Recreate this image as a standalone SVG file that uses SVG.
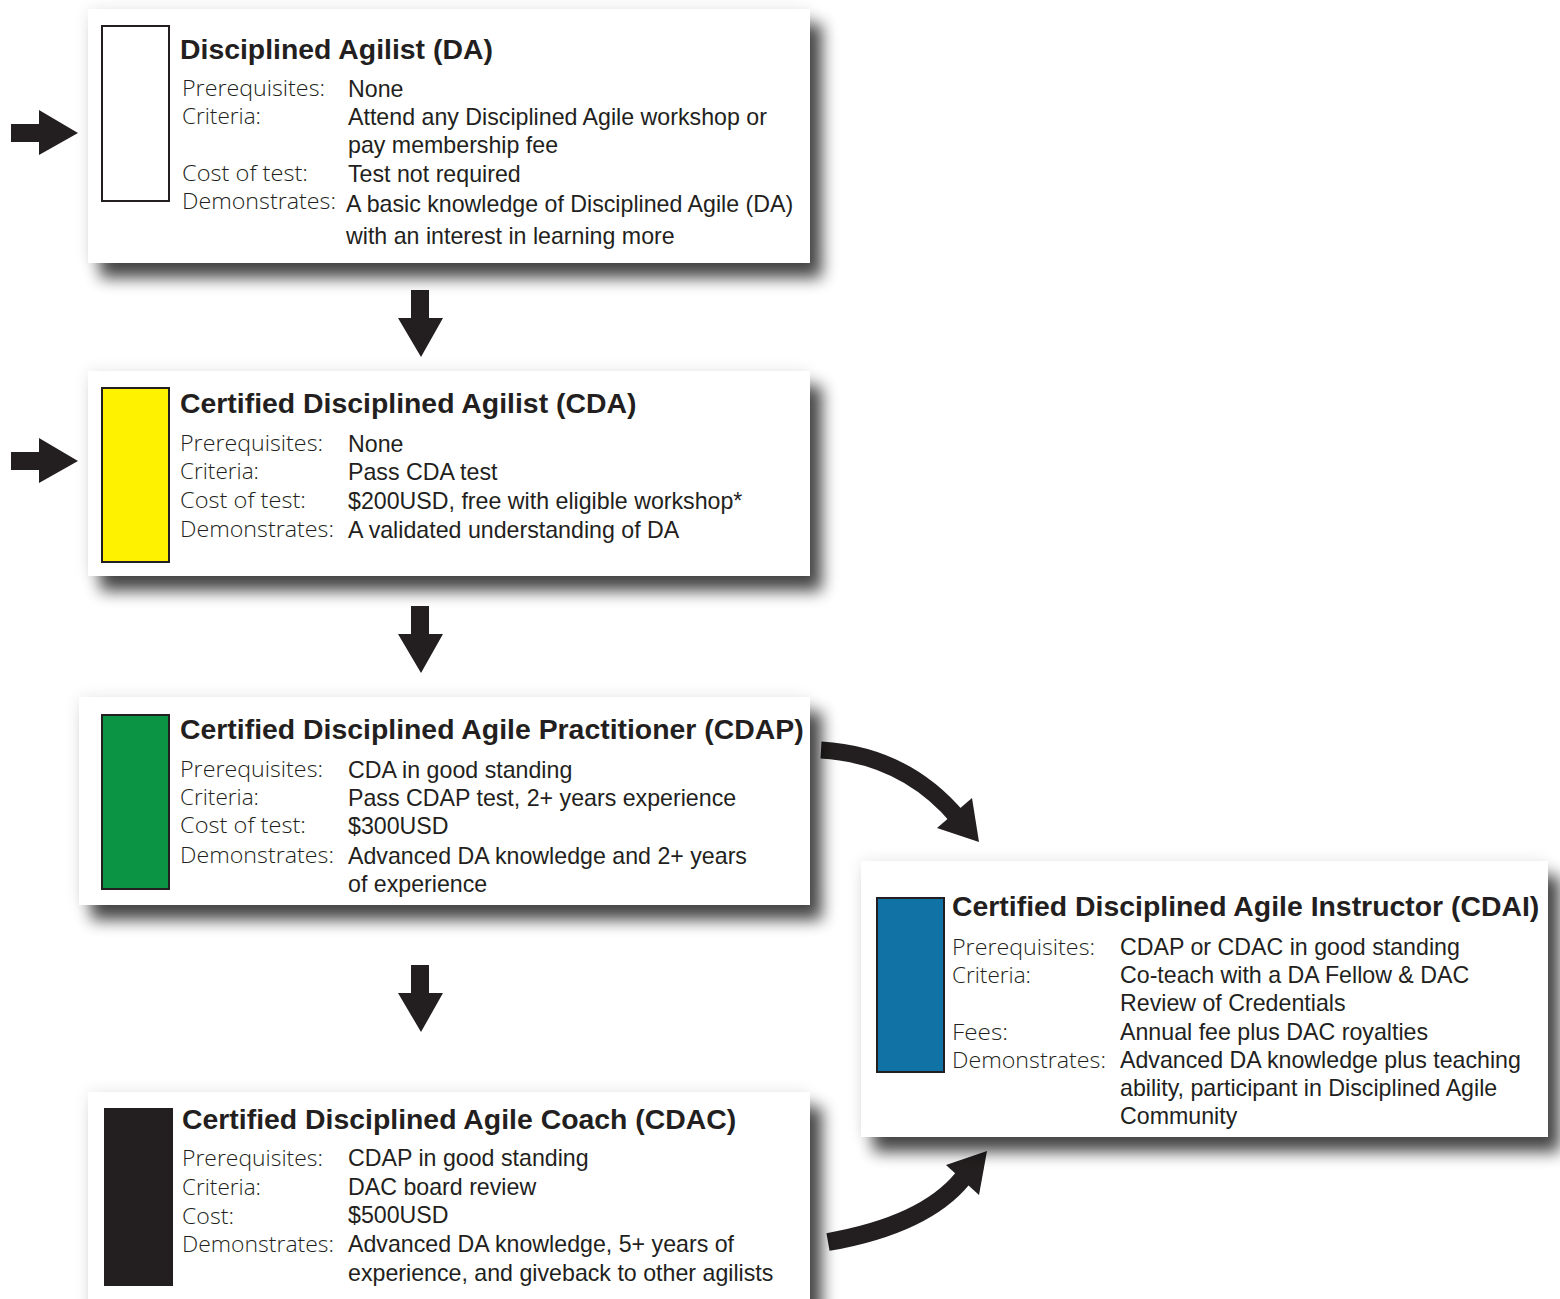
<svg xmlns="http://www.w3.org/2000/svg" width="1560" height="1299" viewBox="0 0 1560 1299">
<style>
.box{fill:#fff;filter:url(#sh)}
.sw{stroke:#231F20;stroke-width:2}
.t{font-family:"Liberation Sans",Arial,sans-serif;font-weight:bold;font-size:28.4px;fill:#231F20}
.l{font-family:"Open Sans","Lato",sans-serif;font-weight:300;font-size:22px;fill:#231F20}
.v{font-family:"Liberation Sans",Arial,sans-serif;font-size:23.2px;fill:#231F20}
.ar{fill:#231F20}
</style>
<defs>
<filter id="sh" x="-10%" y="-20%" width="125%" height="150%">
<feGaussianBlur in="SourceAlpha" stdDeviation="8" result="b"/>
<feOffset in="b" dx="12" dy="15" result="o"/>
<feComponentTransfer in="o" result="o2"><feFuncA type="linear" slope="0.72"/></feComponentTransfer>
<feGaussianBlur in="SourceAlpha" stdDeviation="8" result="g"/>
<feComponentTransfer in="g" result="g2"><feFuncA type="linear" slope="0.1"/></feComponentTransfer>
<feMerge><feMergeNode in="g2"/><feMergeNode in="o2"/><feMergeNode in="SourceGraphic"/></feMerge>
</filter>
</defs>

<g id="connectors">
<polygon class="ar" points="11,124 39,124 39,110 78,133 39,155 39,142 11,142"/>
<polygon class="ar" points="11,452 39,452 39,438 78,461 39,483 39,470 11,470"/>
<polygon class="ar" points="411,290 429,290 429,318 443,318 421,357 398,318 411,318"/>
<polygon class="ar" points="411,606 429,606 429,634 443,634 421,673 398,634 411,634"/>
<polygon class="ar" points="411,965 429,965 429,993 443,993 421,1032 398,993 411,993"/>
<path d="M821,750 Q905,755 958,818" fill="none" stroke="#231F20" stroke-width="17"/>
<polygon class="ar" points="937,828 972,798 979,842"/>
<path d="M828,1242 Q925,1225 963,1178" fill="none" stroke="#231F20" stroke-width="18"/>
<polygon class="ar" points="946,1165 979,1195 987,1151"/>
</g>

<g id="node-da">
<rect class="box" x="88" y="9" width="722" height="254"/>
<rect class="sw" x="102" y="26" width="67" height="175" fill="#fff"/>
<text class="t" x="180" y="59">Disciplined Agilist (DA)</text>
<text class="l" x="182" y="96" textLength="143" lengthAdjust="spacingAndGlyphs">Prerequisites:</text>
<text class="v" x="348" y="97">None</text>
<text class="l" x="182" y="124" textLength="79" lengthAdjust="spacingAndGlyphs">Criteria:</text>
<text class="v" x="348" y="125">Attend any Disciplined Agile workshop or</text>
<text class="v" x="348" y="153">pay membership fee</text>
<text class="l" x="182" y="181" textLength="126" lengthAdjust="spacingAndGlyphs">Cost of test:</text>
<text class="v" x="348" y="182">Test not required</text>
<text class="l" x="182" y="209" textLength="154" lengthAdjust="spacingAndGlyphs">Demonstrates:</text>
<text class="v" x="346" y="212">A basic knowledge of Disciplined Agile (DA)</text>
<text class="v" x="346" y="244">with an interest in learning more</text>
</g>

<g id="node-cda">
<rect class="box" x="88" y="371" width="722" height="205"/>
<rect class="sw" x="102" y="388" width="67" height="174" fill="#FFF200"/>
<text class="t" x="180" y="413">Certified Disciplined Agilist (CDA)</text>
<text class="l" x="180" y="451" textLength="143" lengthAdjust="spacingAndGlyphs">Prerequisites:</text>
<text class="v" x="348" y="452">None</text>
<text class="l" x="180" y="479" textLength="79" lengthAdjust="spacingAndGlyphs">Criteria:</text>
<text class="v" x="348" y="480">Pass CDA test</text>
<text class="l" x="180" y="508" textLength="126" lengthAdjust="spacingAndGlyphs">Cost of test:</text>
<text class="v" x="348" y="509">$200USD, free with eligible workshop*</text>
<text class="l" x="180" y="537" textLength="154" lengthAdjust="spacingAndGlyphs">Demonstrates:</text>
<text class="v" x="348" y="538">A validated understanding of DA</text>
</g>

<g id="node-cdap">
<rect class="box" x="79" y="697" width="731" height="208"/>
<rect class="sw" x="102" y="715" width="67" height="174" fill="#0A9444"/>
<text class="t" x="180" y="739">Certified Disciplined Agile Practitioner (CDAP)</text>
<text class="l" x="180" y="777" textLength="143" lengthAdjust="spacingAndGlyphs">Prerequisites:</text>
<text class="v" x="348" y="778">CDA in good standing</text>
<text class="l" x="180" y="805" textLength="79" lengthAdjust="spacingAndGlyphs">Criteria:</text>
<text class="v" x="348" y="806">Pass CDAP test, 2+ years experience</text>
<text class="l" x="180" y="833" textLength="126" lengthAdjust="spacingAndGlyphs">Cost of test:</text>
<text class="v" x="348" y="834">$300USD</text>
<text class="l" x="180" y="863" textLength="154" lengthAdjust="spacingAndGlyphs">Demonstrates:</text>
<text class="v" x="348" y="864">Advanced DA knowledge and 2+ years</text>
<text class="v" x="348" y="892">of experience</text>
</g>

<g id="node-cdac">
<rect class="box" x="88" y="1092" width="722" height="230"/>
<rect class="sw" x="105" y="1109" width="67" height="176" fill="#231F20"/>
<text class="t" x="182" y="1129">Certified Disciplined Agile Coach (CDAC)</text>
<text class="l" x="182" y="1166" textLength="141" lengthAdjust="spacingAndGlyphs">Prerequisites:</text>
<text class="v" x="348" y="1166">CDAP in good standing</text>
<text class="l" x="182" y="1195" textLength="79" lengthAdjust="spacingAndGlyphs">Criteria:</text>
<text class="v" x="348" y="1195">DAC board review</text>
<text class="l" x="182" y="1224" textLength="52" lengthAdjust="spacingAndGlyphs">Cost:</text>
<text class="v" x="348" y="1223">$500USD</text>
<text class="l" x="182" y="1252" textLength="152" lengthAdjust="spacingAndGlyphs">Demonstrates:</text>
<text class="v" x="348" y="1252">Advanced DA knowledge, 5+ years of</text>
<text class="v" x="348" y="1281">experience, and giveback to other agilists</text>
</g>

<g id="node-cdai">
<rect class="box" x="861" y="861" width="687" height="276"/>
<rect class="sw" x="877" y="898" width="67" height="174" fill="#1172A6"/>
<text class="t" x="952" y="916">Certified Disciplined Agile Instructor (CDAI)</text>
<text class="l" x="952" y="955" textLength="143" lengthAdjust="spacingAndGlyphs">Prerequisites:</text>
<text class="v" x="1120" y="955">CDAP or CDAC in good standing</text>
<text class="l" x="952" y="983" textLength="79" lengthAdjust="spacingAndGlyphs">Criteria:</text>
<text class="v" x="1120" y="983">Co-teach with a DA Fellow &amp; DAC</text>
<text class="v" x="1120" y="1011">Review of Credentials</text>
<text class="l" x="952" y="1040" textLength="56" lengthAdjust="spacingAndGlyphs">Fees:</text>
<text class="v" x="1120" y="1040">Annual fee plus DAC royalties</text>
<text class="l" x="952" y="1068" textLength="154" lengthAdjust="spacingAndGlyphs">Demonstrates:</text>
<text class="v" x="1120" y="1068">Advanced DA knowledge plus teaching</text>
<text class="v" x="1120" y="1096">ability, participant in Disciplined Agile</text>
<text class="v" x="1120" y="1124">Community</text>
</g>
</svg>
